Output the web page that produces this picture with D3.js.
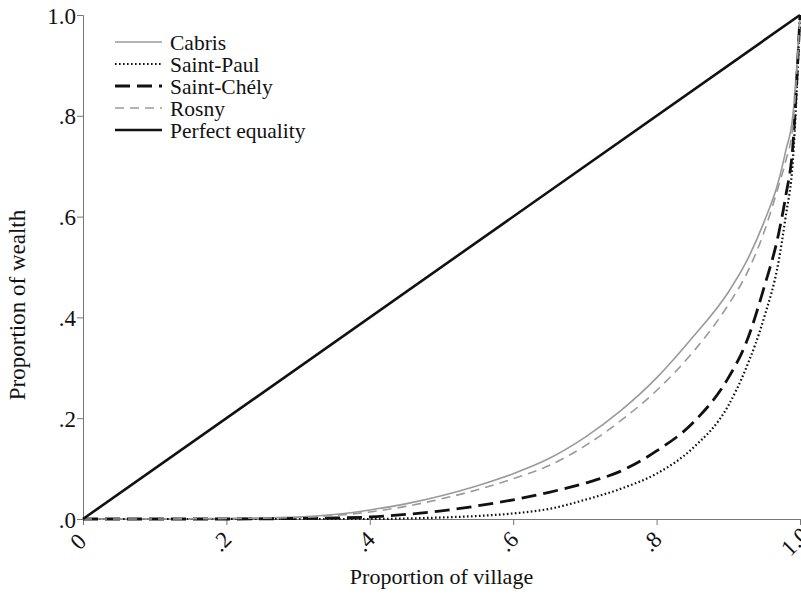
<!DOCTYPE html>
<html>
<head>
<meta charset="utf-8">
<script src="https://cdn.jsdelivr.net/npm/d3@7"></script>
<style>
  body { margin: 0; background: #fff; }
  text { font-family: "Liberation Serif", "Times New Roman", serif; }
</style>
</head>
<body>
<script>
// share of village (x) and cumulative share of wealth (y) for each village
var villageShare = [0, .1, .2, .3, .35, .4, .45, .5, .55, .6, .65, .7, .75, .8, .85, .9, .925, .95, .97, .98, .99, 1];

var cabris     = [0, 0, .001, .004, .009, .018, .03, .046, .066, .09, .12, .162, .215, .28, .36, .45, .51, .59, .67, .73, .8, 1];
var saintPaul  = [0, 0, 0, 0, 0, 0, .001, .003, .006, .011, .02, .038, .06, .09, .14, .225, .3, .40, .51, .6, .71, 1];
var saintChely = [0, 0, 0, .001, .002, .004, .009, .016, .026, .038, .053, .071, .095, .135, .19, .28, .35, .46, .565, .64, .74, 1];
var rosny      = [0, 0, .001, .003, .007, .014, .025, .04, .058, .08, .106, .145, .195, .255, .33, .425, .485, .57, .66, .71, .78, 1];
var equality   = [0, 1];
var equalityX  = [0, 1];

var xTicks = [0, .2, .4, .6, .8, 1];
var xTickLabels = ["0", ".2", ".4", ".6", ".8", "1.0"];
var yTicks = [0, .2, .4, .6, .8, 1];
var yTickLabels = [".0", ".2", ".4", ".6", ".8", "1.0"];

var seriesNames = ["Cabris", "Saint-Paul", "Saint-Chély", "Rosny", "Perfect equality"];

var width = 801, height = 594;
var margin = {left: 83, right: 1, top: 15, bottom: 75};

var svg = d3.select("body").append("svg").attr("width", width).attr("height", height);

var x = d3.scaleLinear().domain([0, 1]).range([margin.left, width - margin.right]);
var y = d3.scaleLinear().domain([0, 1]).range([height - margin.bottom, margin.top]);

// line styles, one per series
var styles = [
  {stroke: "#9a9a9a", width: 1.6, dash: null},
  {stroke: "#111", width: 2.2, dash: "1.6,2.4"},
  {stroke: "#111", width: 2.8, dash: "15,7"},
  {stroke: "#9a9a9a", width: 1.6, dash: "9,6"},
  {stroke: "#111", width: 2.6, dash: null}
];

var seriesData = [
  villageShare.map(function(d, i){ return [d, cabris[i]]; }),
  villageShare.map(function(d, i){ return [d, saintPaul[i]]; }),
  villageShare.map(function(d, i){ return [d, saintChely[i]]; }),
  villageShare.map(function(d, i){ return [d, rosny[i]]; }),
  equalityX.map(function(d, i){ return [d, equality[i]]; })
];

// axes
var yAxis = d3.axisLeft(y).tickValues(yTicks).tickSize(6).tickFormat(function(d, i){ return yTickLabels[i]; });
var xAxis = d3.axisBottom(x).tickValues(xTicks).tickSize(6).tickFormat(function(d, i){ return xTickLabels[i]; });

var gy = svg.append("g").attr("transform", "translate(" + margin.left + ",0)").call(yAxis);
gy.select(".domain").attr("stroke", "#777");
gy.selectAll(".tick line").attr("stroke", "#777");
gy.selectAll(".tick text").attr("font-size", 23).attr("fill", "#111").attr("x", -7).attr("dy", "0.35em");

var gx = svg.append("g").attr("transform", "translate(0," + y(0) + ")").call(xAxis);
gx.select(".domain").attr("stroke", "#777");
gx.selectAll(".tick line").attr("stroke", "#777");
gx.selectAll(".tick text")
  .attr("font-size", 23).attr("fill", "#111")
  .attr("text-anchor", "middle")
  .attr("y", 0).attr("dy", 0)
  .attr("transform", "translate(0,28) rotate(-45)");

// curves
var line = d3.line()
  .x(function(d){ return x(d[0]); })
  .y(function(d){ return y(d[1]); })
  .curve(d3.curveMonotoneX);

seriesData.forEach(function(data, i){
  svg.append("path")
    .attr("fill", "none")
    .attr("stroke", styles[i].stroke)
    .attr("stroke-width", styles[i].width)
    .attr("stroke-dasharray", styles[i].dash)
    .attr("d", line(data));
});

// legend
var legend = svg.append("g");
seriesNames.forEach(function(name, i){
  var ly = 42 + i * 22;
  legend.append("line")
    .attr("x1", 115).attr("x2", 162).attr("y1", ly).attr("y2", ly)
    .attr("stroke", styles[i].stroke)
    .attr("stroke-width", styles[i].width)
    .attr("stroke-dasharray", styles[i].dash);
  legend.append("text")
    .attr("x", 170).attr("y", ly).attr("dy", "0.35em")
    .attr("font-size", 21.5).attr("fill", "#111")
    .text(name);
});

// axis titles
svg.append("text")
  .attr("x", x(0.5)).attr("y", 584)
  .attr("text-anchor", "middle").attr("font-size", 22).attr("fill", "#111")
  .text("Proportion of village");

svg.append("text")
  .attr("transform", "translate(25,305) rotate(-90)")
  .attr("text-anchor", "middle").attr("font-size", 23).attr("fill", "#111")
  .text("Proportion of wealth");
</script>
</body>
</html>
